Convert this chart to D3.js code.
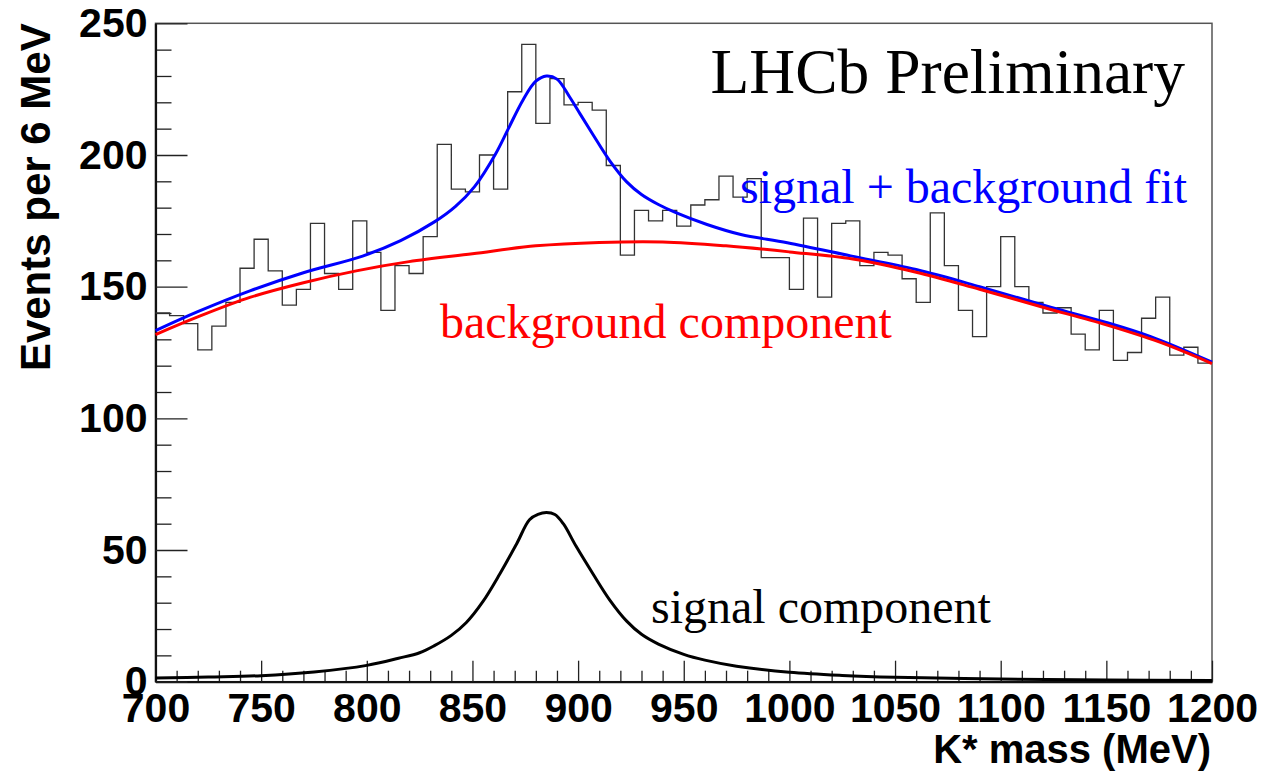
<!DOCTYPE html>
<html>
<head>
<meta charset="utf-8">
<script src="https://cdn.jsdelivr.net/npm/d3@7"></script>
<style>
  html, body { margin: 0; padding: 0; background: #fff; }
  svg { display: block; }
</style>
</head>
<body>
<svg id="chart" width="1263" height="772"></svg>
<script>
const X_MIN = 700
const X_MAX = 1200
const Y_MAX = 250

const xTicks = [700, 750, 800, 850, 900, 950, 1000, 1050, 1100, 1150, 1200]
const yTicks = [0, 50, 100, 150, 200, 250]

// events per bin, 75 equal bins from 700 to 1200 MeV
const counts = [
  140, 139, 136, 126, 135, 144, 157, 168, 156, 143,
  149, 174, 155, 149, 175, 163, 141, 158, 155, 169,
  204, 187, 186, 200, 187, 224, 242, 212, 229, 219,
  220, 217, 196, 162, 179, 175, 179, 173, 181, 183,
  192, 184, 191, 161, 161, 149, 176, 146, 174, 175,
  158, 163, 162, 153, 144, 178, 158, 141, 131, 150,
  169, 150, 144, 140, 142, 132, 126, 141, 122, 125,
  138, 146, 124, 127, 121
]

// background component (red)
const bgMass = [700, 720, 745, 770, 795, 820, 850, 880, 910, 940, 970, 1000, 1030, 1060, 1090, 1120, 1150, 1175, 1200]
const bgVal = [131.8, 138.5, 146, 151.5, 156, 159.5, 162.5, 165.5, 166.8, 167.0, 165.5, 163.2, 160.5, 155.5, 149, 142.2, 135.5, 129, 120.8]

// signal + background fit (blue)
const fitMass = [700, 720, 745, 770, 798, 816, 832, 842, 851, 861, 867, 874, 880, 885, 890, 896, 901, 907, 915, 923, 930, 938, 946, 961, 977, 999, 1029, 1060, 1090, 1124, 1150, 1171, 1200]
const fitVal = [133.3, 140.5, 148.5, 155.3, 161.6, 167.5, 174.6, 180.5, 188, 200.5, 210, 221, 228, 230, 228.8, 222, 215.5, 207.8, 197.8, 189.8, 185, 181.2, 178.2, 173.6, 169.8, 166.7, 161.7, 156.5, 150, 142.1, 136.4, 131.0, 121.3]

// signal component (black)
const sigMass = [700, 725, 750, 775, 800, 815, 825, 832, 840, 847, 855, 863, 871, 877, 881, 885, 889, 893, 899, 907, 915, 923, 930, 938, 950, 960, 975, 1000, 1025, 1050, 1100, 1150, 1200]
const sigVal = [1.4, 1.8, 2.3, 3.7, 6.2, 8.9, 11.0, 13.7, 17.6, 22.4, 30.5, 41, 52.5, 61.5, 63.5, 64.2, 63.5, 60, 51.5, 41, 31, 23, 18, 14.3, 10.4, 8.2, 5.9, 3.6, 2.4, 1.7, 1.0, 0.6, 0.5]

const M = { left: 155.5, right: 1212, top: 23.3, bottom: 681.7 }
const SANS = '"Liberation Sans", Arial, Helvetica, sans-serif'
const SERIF = '"Liberation Serif", "Times New Roman", Times, serif'

const svg = d3.select('#chart')

const x = d3.scaleLinear().domain([X_MIN, X_MAX]).range([M.left, M.right])
const y = d3.scaleLinear().domain([0, Y_MAX]).range([M.bottom, M.top])

// frame
svg.append('rect')
  .attr('x', M.left).attr('y', M.top)
  .attr('width', M.right - M.left).attr('height', M.bottom - M.top)
  .attr('fill', 'none').attr('stroke', '#555').attr('stroke-width', 1.5)

// minor ticks
const xMinor = d3.range(X_MIN, X_MAX + 1, 10).filter(v => !xTicks.includes(v))
const yMinor = d3.range(0, Y_MAX + 1, 10).filter(v => !yTicks.includes(v))

svg.append('g').attr('transform', `translate(0,${M.bottom})`)
  .call(d3.axisBottom(x).tickValues(xMinor).tickSize(-11).tickFormat(() => ''))
  .call(g => g.select('.domain').remove())
svg.append('g').attr('transform', `translate(${M.left},0)`)
  .call(d3.axisLeft(y).tickValues(yMinor).tickSize(-16).tickFormat(() => ''))
  .call(g => g.select('.domain').remove())

// major ticks + labels
const xAxis = svg.append('g').attr('transform', `translate(0,${M.bottom})`)
  .call(d3.axisBottom(x).tickValues(xTicks).tickSize(-21).tickSizeOuter(0).tickPadding(11).tickFormat(d3.format('d')))
const yAxis = svg.append('g').attr('transform', `translate(${M.left},0)`)
  .call(d3.axisLeft(y).tickValues(yTicks).tickSize(-32).tickSizeOuter(0).tickPadding(8).tickFormat(d3.format('d')))

svg.selectAll('.tick line').attr('stroke', '#222').attr('stroke-width', 1.3)
;[xAxis, yAxis].forEach(a => {
  a.select('.domain').attr('stroke', '#111').attr('stroke-width', 2.2)
  a.selectAll('text')
    .attr('font-family', SANS).attr('font-weight', 'bold').attr('font-size', 41).attr('fill', '#000')
})

// histogram (step outline)
const edges = d3.range(counts.length + 1).map(i => X_MIN + i * (X_MAX - X_MIN) / counts.length)
const steps = counts.map((c, i) => [edges[i], c]).concat([[X_MAX, counts[counts.length - 1]]])
svg.append('path')
  .datum(steps)
  .attr('d', d3.line().x(d => x(d[0])).y(d => y(d[1])).curve(d3.curveStepAfter))
  .attr('fill', 'none').attr('stroke', '#333').attr('stroke-width', 1.3)

// fit curves
const smooth = d3.line().x(d => x(d[0])).y(d => y(d[1])).curve(d3.curveCatmullRom.alpha(0.5))
const curves = [
  { mass: fitMass, val: fitVal, color: '#0000ff' },
  { mass: bgMass, val: bgVal, color: '#ff0000' },
  { mass: sigMass, val: sigVal, color: '#000000' }
]
curves.forEach(c => {
  svg.append('path')
    .datum(d3.zip(c.mass, c.val))
    .attr('d', smooth)
    .attr('fill', 'none').attr('stroke', c.color).attr('stroke-width', 3)
    .attr('stroke-linejoin', 'round')
})

// axis titles
svg.append('text')
  .attr('x', 1211).attr('y', 763)
  .attr('text-anchor', 'end')
  .attr('font-family', SANS).attr('font-weight', 'bold').attr('font-size', 40)
  .text('K* mass (MeV)')

svg.append('text')
  .attr('transform', `translate(50,${M.top}) rotate(-90)`)
  .attr('text-anchor', 'end')
  .attr('font-family', SANS).attr('font-weight', 'bold').attr('font-size', 42)
  .text('Events per 6 MeV')

// annotations
const notes = [
  { text: 'LHCb Preliminary', x: 1185, y: 93, size: 63.5, color: '#000', anchor: 'end' },
  { text: 'signal + background fit', x: 1187, y: 203, size: 48, color: '#0000ff', anchor: 'end' },
  { text: 'background component', x: 440, y: 338, size: 48, color: '#ff0000', anchor: 'start' },
  { text: 'signal component', x: 651, y: 623, size: 48, color: '#000', anchor: 'start' }
]
notes.forEach(n => {
  svg.append('text')
    .attr('x', n.x).attr('y', n.y)
    .attr('text-anchor', n.anchor)
    .attr('font-family', SERIF).attr('font-size', n.size).attr('fill', n.color)
    .text(n.text)
})
</script>
</body>
</html>
